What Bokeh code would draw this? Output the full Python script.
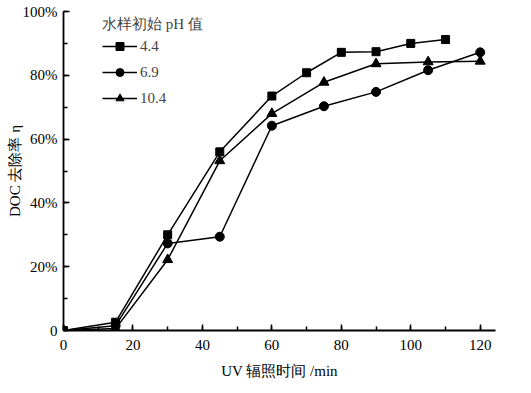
from bokeh.plotting import figure
from bokeh.models import Range1d, FixedTicker, Legend, LegendItem
from bokeh.embed import file_html
from bokeh.resources import INLINE

time_44 = [0, 15, 30, 45, 60, 70, 80, 90, 100, 110]
eta_44 = [0, 2.6, 30.0, 56.0, 73.5, 80.8, 87.2, 87.4, 90.0, 91.2]

time_69 = [0, 15, 30, 45, 60, 75, 90, 105, 120]
eta_69 = [0, 1.5, 27.3, 29.4, 64.2, 70.3, 74.8, 81.6, 87.2]

time_104 = [0, 15, 30, 45, 60, 75, 90, 105, 120]
eta_104 = [0, 0.6, 22.2, 53.2, 68.0, 77.8, 83.6, 84.2, 84.4]

legend_title = "水样初始 pH 值"
series_labels = ["4.4", "6.9", "10.4"]
x_ticks = [0, 20, 40, 60, 80, 100, 120]
y_ticks = [0, 20, 40, 60, 80, 100]
y_tick_labels = ["0", "20%", "40%", "60%", "80%", "100%"]
x_title = "UV 辐照时间 /min"
y_title = "DOC 去除率 η"

FONT = "Liberation Serif"

p = figure(width=515, height=392, output_backend="svg", toolbar_location=None,
           x_range=Range1d(0, 124.4), y_range=Range1d(0, 100),
           min_border_left=63, min_border_right=20, min_border_top=11, min_border_bottom=62)
p.outline_line_color = None
p.xgrid.visible = False
p.ygrid.visible = False

r1l = p.line(time_44, eta_44, line_color="black", line_width=1.5)
r1m = p.scatter(time_44, eta_44, marker="square", size=8, color="black")
r2l = p.line(time_69, eta_69, line_color="black", line_width=1.5)
r2m = p.scatter(time_69, eta_69, marker="circle", size=9, color="black")
r3l = p.line(time_104, eta_104, line_color="black", line_width=1.5)
r3m = p.scatter(time_104, eta_104, marker="triangle", size=10, color="black")

for ax in (p.xaxis[0], p.yaxis[0]):
    ax.axis_line_width = 1.8
    ax.axis_line_color = "black"
    ax.major_tick_in = 6
    ax.major_tick_out = 0
    ax.minor_tick_in = 4
    ax.minor_tick_out = 0
    ax.major_tick_line_width = 1.5
    ax.minor_tick_line_width = 1.5
    ax.major_label_text_font = FONT
    ax.major_label_text_font_size = "15px"
    ax.major_label_text_color = "black"
    ax.axis_label_text_font = FONT
    ax.axis_label_text_font_size = "15px"
    ax.axis_label_text_font_style = "normal"
    ax.axis_label_text_color = "black"

p.xaxis[0].ticker = FixedTicker(ticks=x_ticks, minor_ticks=list(range(0, 125, 10)))
p.yaxis[0].ticker = FixedTicker(ticks=y_ticks, minor_ticks=list(range(0, 101, 10)))
p.yaxis[0].major_label_overrides = {t: l for t, l in zip(y_ticks, y_tick_labels)}
p.xaxis[0].axis_label = x_title
p.yaxis[0].axis_label = y_title
p.xaxis[0].major_label_standoff = 9
p.yaxis[0].major_label_standoff = 6
p.xaxis[0].axis_label_standoff = 10
p.yaxis[0].axis_label_standoff = -3

legend = Legend(items=[
    LegendItem(label=series_labels[0], renderers=[r1l, r1m]),
    LegendItem(label=series_labels[1], renderers=[r2l, r2m]),
    LegendItem(label=series_labels[2], renderers=[r3l, r3m]),
], location=(39, 222))
legend.title = legend_title
legend.title_text_font = FONT
legend.title_text_font_size = "15px"
legend.title_text_font_style = "normal"
legend.title_standoff = 2
legend.label_text_font = FONT
legend.label_text_font_size = "15px"
legend.border_line_color = None
legend.background_fill_alpha = 0
legend.glyph_width = 35
legend.glyph_height = 20
legend.label_height = 20
legend.spacing = 6
legend.padding = 0
legend.margin = 0
legend.label_standoff = 3
p.add_layout(legend, "center")

open("out.html", "w").write(file_html(p, INLINE))
